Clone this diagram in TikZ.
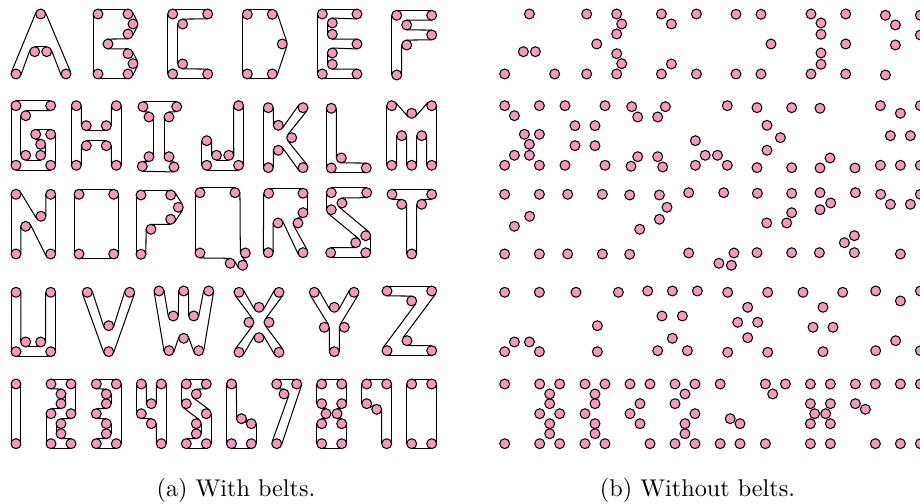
\documentclass[tikz,border=0pt]{standalone}
\usepackage{xcolor}
\usetikzlibrary{backgrounds,calc}
\definecolor{pulleypink}{HTML}{F598BE}
\newcommand{\pulleyr}{2.05pt}
\tikzset{
  pulley/.style={circle, draw=black, line width=0.42pt, fill=pulleypink,
    minimum size=4.1pt, inner sep=0pt},
  beltline/.style={draw=black, line width=0.42pt},
  caption/.style={font=\normalsize, anchor=base}
}
% straight run of belt between two pulleys, side 1 = outside of the loop
\newcommand{\beltpiece}[4]{
  \draw[beltline] let \p1=(#1), \p2=(#3),
    \n1={atan2(\y2-\y1,\x2-\x1)},
    \n2={veclen(\x2-\x1,\y2-\y1)},
    \n3={\n1+90-(#2==#4 ? 0 : (#2)*asin(min(0.99,2*\pulleyr/\n2)))}
    in ({\x1+(#2)*\pulleyr*cos(\n3)},{\y1+(#2)*\pulleyr*sin(\n3)})
    -- ({\x2+(#4)*\pulleyr*cos(\n3)},{\y2+(#4)*\pulleyr*sin(\n3)});
}
\newcommand{\beltglyph}[2]{
  \foreach \px/\py/\ps [count=\pn] in {#2} {
    \node[pulley] (#1\pn) at (\px,\py) {};
    \expandafter\xdef\csname side#1\pn\endcsname{\ps}
    \xdef\lastpn{\pn}
  }
  \begin{scope}[on background layer]
    \foreach \pn in {1,...,\lastpn} {
      \pgfmathtruncatemacro\qn{mod(\pn,\lastpn)+1}
      \edef\sidea{\csname side#1\pn\endcsname}
      \edef\sideb{\csname side#1\qn\endcsname}
      \beltpiece{#1\pn}{\sidea}{#1\qn}{\sideb}
    }
  \end{scope}
}
\newcommand{\bareglyph}[2]{
  \foreach \px/\py/\ps [count=\pn] in {#2} {
    \node[pulley] (b#1\pn) at (\px,\py) {};
  }
}
% pulleys of each glyph in belt order: x/y/side, pixels of panel (a)
\newcommand{\glyphset}[1]{
  % first row
  #1{A}{40.7/14/1,66/74/1,46.7/51.7/-1,34.7/51.7/-1,16/74/1}
  #1{B}{98/14/1,128/14/1,133/24/1,128/34/1,108/44/-1,128/53.7/1,133/63.7/1,128/74/1,98/74/1}
  #1{C}{172.7/14/1,207.7/14/1,182.7/24/-1,182.7/64/-1,207.7/74/1,172.7/74/1}
  #1{D}{247.3/14.3/1,272.3/14.3/1,282.3/44/1,272.3/74/1,247.3/74/1}
  #1{E}{322.3/14/1,357/14/1,332.3/23/-1,332.3/34.3/-1,357/44/1,332.3/53/-1,332.3/64.3/-1,357/74/1,322.3/74/1}
  #1{F}{396.7/15.3/1,431.7/15.3/1,406.7/25/-1,431.7/35/1,406.7/45/-1,396.7/75/1}
  % second row
  #1{G}{16/105.7/1,50.7/105.7/1,25.7/115.7/-1,25.7/155.3/-1,40.7/155.3/-1,40.7/144.3/-1,35.7/134.3/1,50.7/134.3/1,50.7/165.3/1,16/165.3/1}
  #1{H}{76.3/105.7/1,86.3/125.7/-1,106.3/125.7/-1,116.3/105.7/1,116.3/165.3/1,106.3/145.7/-1,86.3/145.7/-1,76.3/165.3/1}
  #1{I}{143/106.7/1,176.7/106.7/1,169/117/-1,169/156.7/-1,174/167/1,142.3/166.3/1,149/156.7/-1,149/117/-1}
  #1{J}{238.6/105.7/1,238.6/165.3/1,206.7/165.3/1,206.7/140.7/1,216.5/155.3/-1,228.8/155.3/-1}
  #1{K}{268.3/107.7/1,278.3/125.3/-1,303/107.7/1,291.7/137.7/-1,303/167.7/1,278.3/150.3/-1,268.3/167.7/1}
  #1{L}{331.3/108.3/1,341.3/158/-1,366.3/168/1,331.3/168/1}
  #1{M}{391.7/105.7/1,411.7/113.3/-1,431.7/105.7/1,431.7/165.3/1,421.7/135.7/-1,411.7/165.3/1,401.7/135.7/-1,391.7/165.3/1}
  % third row
  #1{N}{16/194.3/1,41/216.3/-1,50.7/194.3/1,50.7/254/1,25.7/226.3/-1,16/254/1}
  #1{O}{79/194.3/1,113.7/194.3/1,113.7/254/1,79/254/1}
  #1{P}{141/195/1,170.7/195/1,178.3/207.3/1,170.7/219.3/1,151/229.3/-1,141/254.3/1}
  #1{Q}{200/192.7/1,235/192.7/1,245.3/253/-1,242.7/265.3/1,230.2/263.3/-1,200/253/1}
  #1{R}{268.7/193.3/1,303/193.3/1,303/212.7/1,298/223/-1,303/252.7/1,278/223/-1,268.3/252.7/1}
  #1{S}{331.3/192.7/1,366.7/192.7/1,342/203/-1,365.7/235.7/1,365.7/252.7/1,330.7/252.7/1,355.7/242.7/-1,331.3/209.7/1}
  #1{T}{392/194.3/1,431.7/194.3/1,421.7/204.3/-1,411.7/254/1,401.7/204.3/-1}
  % fourth row
  #1{U}{16/292.3/1,25.7/342/-1,40.7/342/-1,50.7/292.3/1,50.7/351.7/1,16/351.7/1}
  #1{V}{87.3/292.3/1,108.7/325.7/-1,129.7/292.3/1,108.7/351.7/1}
  #1{W}{159/291/1,173.3/316/-1,183.7/291/1,193.7/316/-1,208.7/291/1,198.7/350.7/1,183.7/338.3/-1,169/350.7/1}
  #1{X}{239/292.3/1,259/307.3/-1,279/292.3/1,269/322.3/-1,279/352.3/1,259/337.7/-1,239/352.3/1,249/322.3/-1}
  #1{Y}{314.3/292.3/1,334.3/307.3/-1,354/292.3/1,344.3/327.3/-1,334.3/351.7/1,324.3/327.3/-1}
  #1{Z}{387/291/1,431.7/291/1,407/340.7/-1,431.7/350.7/1,387/350.7/1,411.7/301/-1}
  % digits
  #1{one}{16/384/1,16/443.7/1}
  #1{two}{51/384/1,71/384/1,71/413.7/1,61/423.7/-1,61/433.7/-1,71/443.7/1,51/443.7/1,51/413.7/1,61/403.7/-1,61/394/-1}
  #1{three}{96.3/384/1,116.3/384/1,116.3/443.7/1,96.3/443.7/1,106.3/433.7/-1,106.3/423.7/-1,96.3/413.7/1,106.3/403.7/-1,106.3/394/-1}
  #1{four}{141.3/384/1,151.3/403.7/-1,161.3/384/1,161.3/443.7/1,151.3/423.7/-1,141.3/413.7/1}
  #1{five}{186.3/384/1,206.3/384/1,196.3/394/-1,206.3/413.7/1,206.3/443.7/1,186.3/443.7/1,196.3/433.7/-1,196.3/423.7/-1,186.3/403.7/1}
  #1{six}{231.5/384/1,241.5/418.7/-1,251.3/423.7/1,251.3/443.7/1,231.5/443.7/1}
  #1{seven}{276.7/384/1,296.7/384/1,276.7/443.7/1,284/394/-1}
  #1{eight}{321.7/384/1,341.7/384/1,341.7/403.7/1,337/413.7/-1,341.7/423.7/1,341.7/443.7/1,321.7/443.7/1,321.7/423.7/1,326/413.7/-1,321.7/403.7/1}
  #1{nine}{366.7/384/1,386.7/384/1,386.7/443.7/1,376.7/409.3/-1,366.7/403.7/1}
  #1{zero}{411.7/384/1,431.7/384/1,431.7/443.7/1,411.7/443.7/1}
}

\begin{document}
\begin{tikzpicture}[x=0.4133pt,y=-0.4133pt]
  \useasboundingbox (0,0) rectangle (920,504);
  \clip (0,0) rectangle (920,504);

  % With belts
  \glyphset{\beltglyph}
  \node[caption] (capa) at (236,497) {(a) With belts.};

  % Without belts
  \begin{scope}[shift={(488.7,0)}]
    \glyphset{\bareglyph}
  \end{scope}
  \node[caption] (capb) at (697.5,497) {(b) Without belts.};
\end{tikzpicture}
\end{document}
